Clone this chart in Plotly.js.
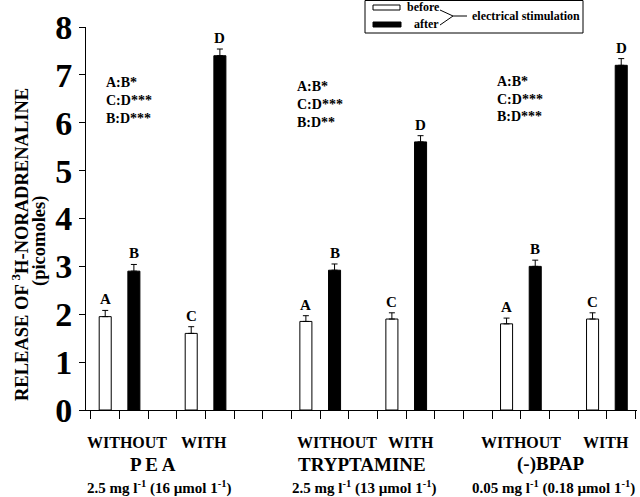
<!DOCTYPE html>
<html>
<head>
<meta charset="utf-8">
<script src="https://cdn.plot.ly/plotly-3.0.1.min.js"></script>
<style>html,body{margin:0;padding:0;background:#fff;}#chart{width:640px;height:497px;}</style>
</head>
<body>
<div id="chart"></div>
<script>
// ---- data ----
var groups = ['P E A', 'TRYPTAMINE', '(-)BPAP'];
var doses = ['2.5 mg l<sup>-1</sup> (16 \u00b5mol 1<sup>-1</sup>)', '2.5 mg l<sup>-1</sup> (13 \u00b5mol 1<sup>-1</sup>)', '0.05 mg l<sup>-1</sup> (0.18 \u00b5mol 1<sup>-1</sup>)'];
var conditions = ['WITHOUT', 'WITH'];
var barLetters = ['A', 'B', 'C', 'D'];
var valA = [1.95, 1.85, 1.80];   // without, before stimulation
var valB = [2.90, 2.92, 3.00];   // without, after stimulation
var valC = [1.60, 1.90, 1.90];   // with, before stimulation
var valD = [7.40, 5.60, 7.20];   // with, after stimulation
var errA = [0.13, 0.12, 0.12];
var errB = [0.14, 0.13, 0.13];
var errC = [0.14, 0.13, 0.13];
var errD = [0.14, 0.13, 0.14];
var stats = [['A:B*', 'C:D***', 'B:D***'], ['A:B*', 'C:D***', 'B:D**'], ['A:B*', 'C:D***', 'B:D***']];
var yTicks = [0, 1, 2, 3, 4, 5, 6, 7, 8];
var yTitle = ['RELEASE OF <sup>3</sup>H-NORADRENALINE', '(picomoles)'];

// ---- layout helpers ----
var FONT = 'Liberation Serif, Times New Roman, serif';
var L = 86, T = 27, W = 551, H = 383;
function px(x) { return (x - L) / W; }
function py(y) { return (T + H - y) / H; }

var slot = function (g, k) { return g * 7 + [0, 1, 3, 4][k]; };
var vals = [valA, valB, valC, valD], errs = [errA, errB, errC, errD];

var bx = [], by = [], be = [], ax = [], ay = [], ae = [];
for (var g = 0; g < groups.length; g++) {
  bx.push(slot(g, 0), slot(g, 2)); by.push(valA[g], valC[g]); be.push(errA[g], errC[g]);
  ax.push(slot(g, 1), slot(g, 3)); ay.push(valB[g], valD[g]); ae.push(errB[g], errD[g]);
}

var traces = [
  { type: 'bar', name: 'before', x: bx, y: by, width: 0.42,
    marker: { color: '#ffffff', line: { color: '#000', width: 1 } },
    error_y: { type: 'data', array: be, arrayminus: be.map(function () { return 0; }), symmetric: false, color: '#000', thickness: 1, width: 3 },
    hoverinfo: 'x+y' },
  { type: 'bar', name: 'after', x: ax, y: ay, width: 0.42,
    marker: { color: '#000000', line: { color: '#000', width: 1 } },
    error_y: { type: 'data', array: ae, arrayminus: ae.map(function () { return 0; }), symmetric: false, color: '#000', thickness: 1, width: 3 },
    hoverinfo: 'x+y' }
];

function txt(x, y, text, size, xa, ya, extra) {
  var a = { x: px(x), y: py(y), xref: 'paper', yref: 'paper', text: text, showarrow: false,
    xanchor: xa || 'center', yanchor: ya || 'middle',
    font: { family: FONT, size: size, color: '#000', weight: 'bold' } };
  if (extra) for (var k in extra) a[k] = extra[k];
  return a;
}

var ann = [];
// letters above bars
for (var g = 0; g < groups.length; g++) {
  for (var k = 0; k < 4; k++) {
    ann.push({ x: slot(g, k), y: vals[k][g] + errs[k][g], xref: 'x', yref: 'y', text: barLetters[k],
      showarrow: false, xanchor: 'center', yanchor: 'bottom', yshift: 1, font: { family: FONT, size: 15, color: '#000', weight: 'bold' } });
  }
}
// statistics text
var statPos = [[104, 83], [295, 86], [495, 81]];
for (var g = 0; g < groups.length; g++) {
  for (var i = 0; i < 3; i++) {
    ann.push(txt(statPos[g][0], statPos[g][1] + i * 18, stats[g][i], 14, 'left', 'middle'));
  }
}
// category labels
var withoutX = [127, 337, 521], withX = [204, 411, 606], groupX = [153, 362, 551], doseX = [159, 364, 553];
for (var g = 0; g < groups.length; g++) {
  ann.push(txt(withoutX[g], 442, conditions[0], 16));
  ann.push(txt(withX[g], 442, conditions[1], 16));
  ann.push(txt(groupX[g], 464, groups[g], 19));
  ann.push(txt(doseX[g], 488, doses[g], 15));
}
// y-axis title (two lines)
ann.push(txt(20, 245, yTitle[0], 18.5, 'center', 'middle', { textangle: -90 }));
ann.push(txt(39, 241, yTitle[1], 18.5, 'center', 'middle', { textangle: -90 }));
// legend texts
ann.push(txt(405, 7, 'before', 12, 'left', 'middle'));
ann.push(txt(412, 24, 'after', 12, 'left', 'middle'));
ann.push(txt(470, 16, 'electrical stimulation', 12, 'left', 'middle'));

function P(x, y) { return px(x) + ',' + py(y); }
var shapes = [
  { type: 'rect', xref: 'paper', yref: 'paper', x0: px(365), x1: px(583), y0: py(33), y1: py(0.5), line: { color: '#000', width: 1 }, fillcolor: 'rgba(0,0,0,0)' },
  { type: 'rect', xref: 'paper', yref: 'paper', x0: px(373), x1: px(400), y0: py(10), y1: py(5), line: { color: '#000', width: 1 }, fillcolor: '#fff' },
  { type: 'rect', xref: 'paper', yref: 'paper', x0: px(373), x1: px(401), y0: py(27), y1: py(22), line: { color: '#000', width: 1 }, fillcolor: '#000' },
  { type: 'path', xref: 'paper', yref: 'paper', path: 'M' + P(440, 10) + ' L' + P(453, 16) + ' L' + P(440, 25) + ' M' + P(453, 16) + ' L' + P(467, 16), line: { color: '#000', width: 1 } }
];

var layout = {
  width: 640, height: 497,
  margin: { l: L, r: 640 - L - W, t: T, b: 497 - T - H, pad: 0 },
  paper_bgcolor: '#fff', plot_bgcolor: '#fff',
  showlegend: false,
  barmode: 'overlay',
  xaxis: { range: [-0.67, 18.55], showgrid: false, zeroline: false, showline: true, linecolor: '#000', linewidth: 1,
    ticks: 'outside', ticklen: 8, tickcolor: '#000', tickwidth: 1,
    tickvals: Array.from({ length: 20 }, function (_, i) { return i - 0.5; }), showticklabels: false, fixedrange: true },
  yaxis: { range: [0, 8], showgrid: false, zeroline: false, showline: true, linecolor: '#000', linewidth: 1,
    ticks: 'outside', ticklen: 6, tickcolor: '#000', tickwidth: 1, tickvals: yTicks, ticktext: yTicks.map(String),
    tickfont: { family: FONT, size: 34, color: '#000', weight: 'bold' }, fixedrange: true },
  annotations: ann,
  shapes: shapes
};

Plotly.newPlot('chart', traces, layout, { displayModeBar: false, staticPlot: true });
</script>
</body>
</html>
